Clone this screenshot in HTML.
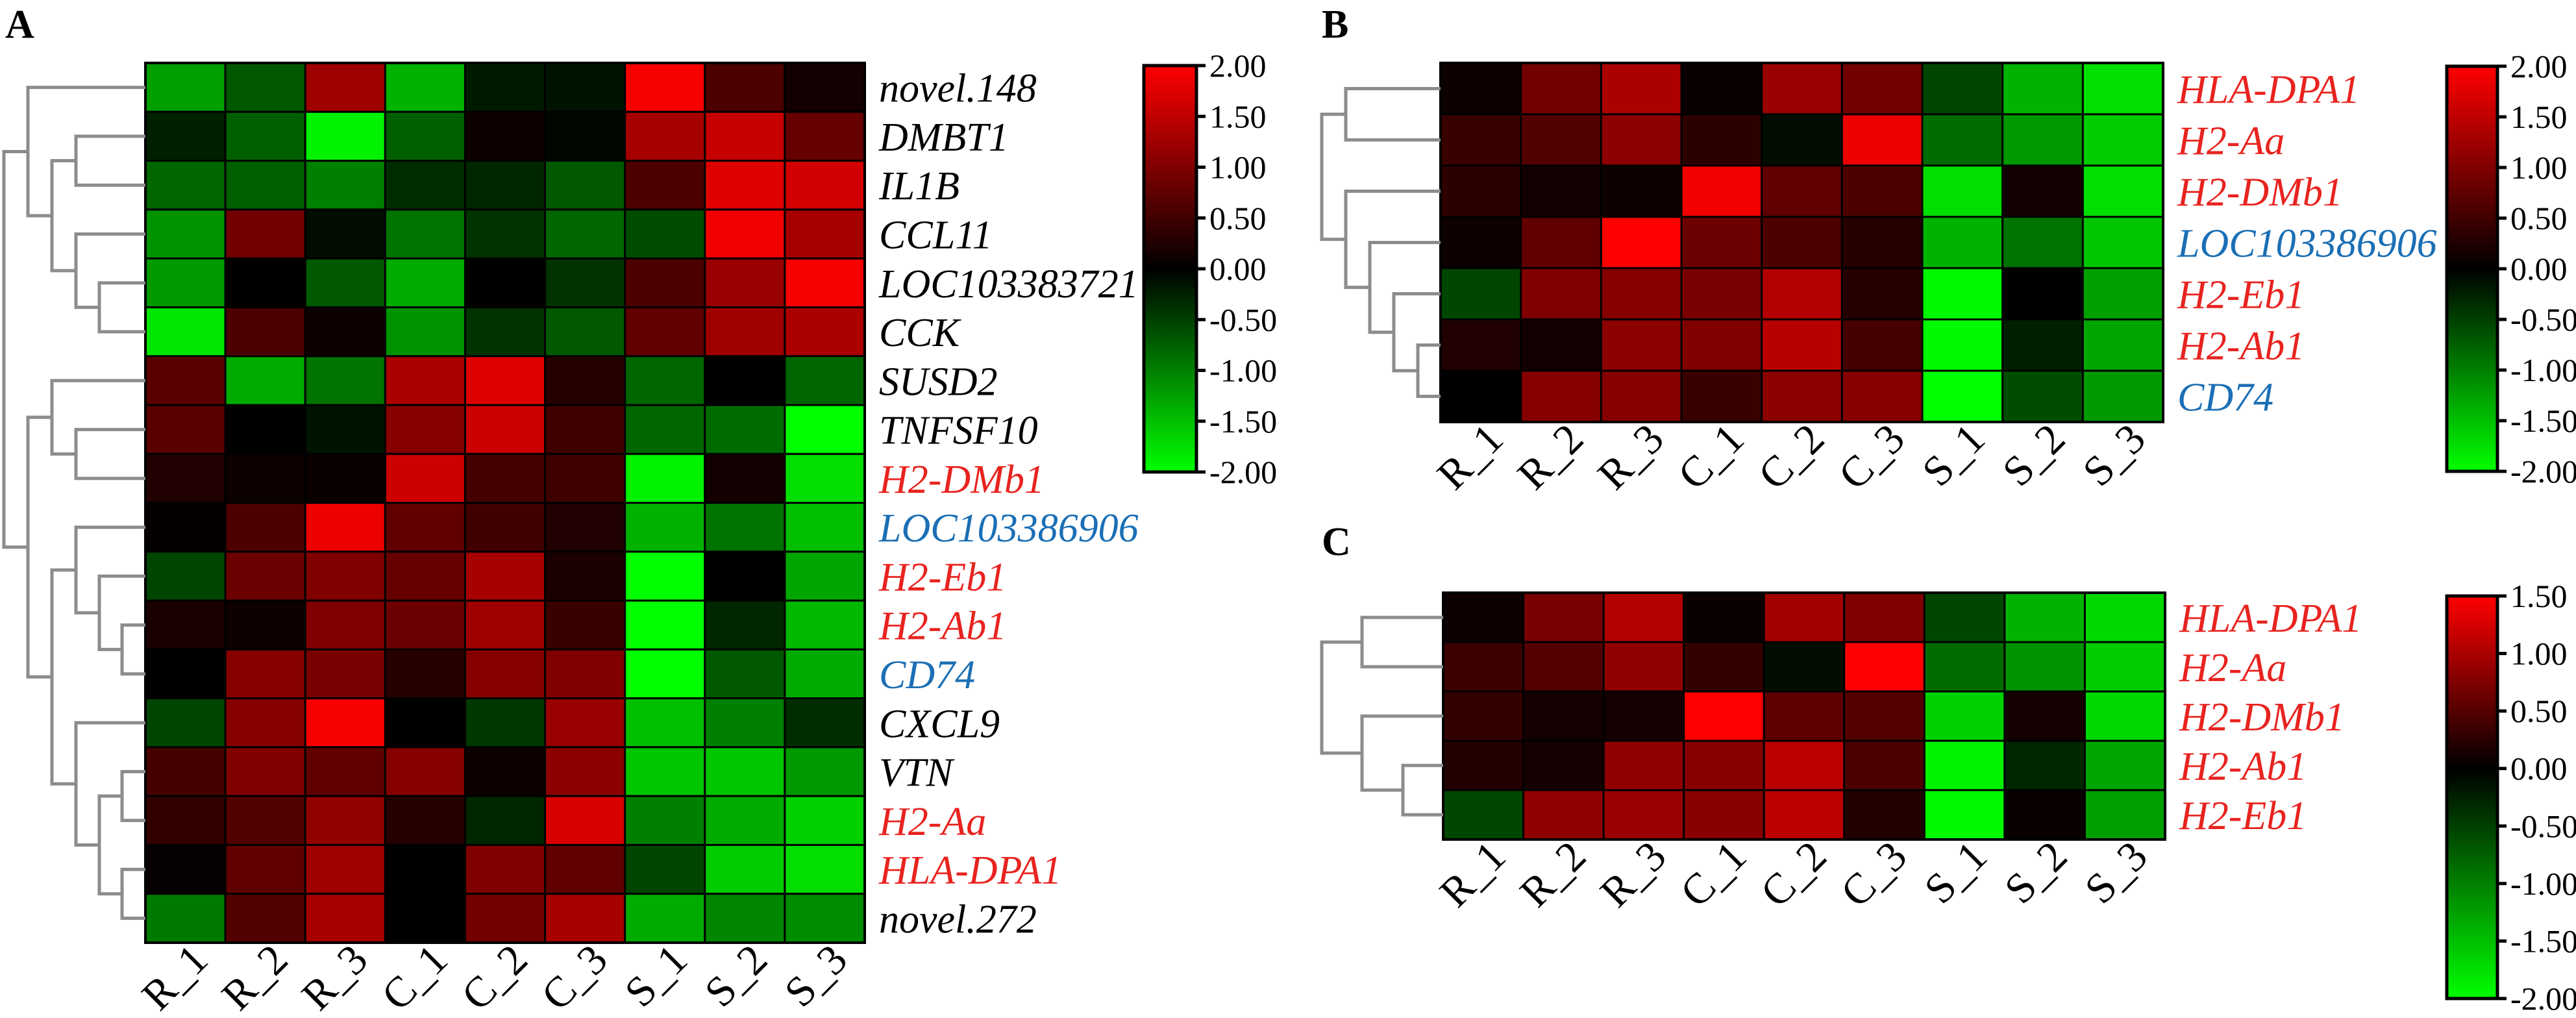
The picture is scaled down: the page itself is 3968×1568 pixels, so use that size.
<!DOCTYPE html>
<html><head><meta charset="utf-8"><style>
html,body{margin:0;padding:0;background:#fff}
svg{display:block}
svg text{font-family:"Liberation Serif","Times New Roman","DejaVu Serif",serif !important}
</style></head><body>
<svg id="fig" width="3968" height="1568" viewBox="0 0 3968 1568" xmlns="http://www.w3.org/2000/svg"></svg>
<script>
const cols = ["R_1","R_2","R_3","C_1","C_2","C_3","S_1","S_2","S_3"];
const rowsA = ["novel.148","DMBT1","IL1B","CCL11","LOC103383721","CCK","SUSD2","TNFSF10","H2-DMb1","LOC103386906","H2-Eb1","H2-Ab1","CD74","CXCL9","VTN","H2-Aa","HLA-DPA1","novel.272"];
const valuesA = [
[-1.25,-0.7,1.25,-1.4,-0.2,-0.15,1.95,0.6,0.15],
[-0.25,-0.75,-1.9,-0.75,0.1,-0.05,1.3,1.55,0.8],
[-0.8,-0.75,-1.0,-0.35,-0.3,-0.7,0.6,1.75,1.65],
[-1.15,0.9,-0.1,-0.9,-0.4,-0.8,-0.6,1.9,1.3],
[-1.2,0.02,-0.7,-1.35,0.02,-0.4,0.6,1.2,1.95],
[-1.8,0.6,0.1,-1.15,-0.4,-0.7,0.75,1.25,1.35],
[0.7,-1.35,-0.9,1.35,1.75,0.3,-0.8,0.0,-0.8],
[0.7,0.0,-0.15,1.05,1.6,0.5,-0.8,-0.85,-2.0],
[0.25,0.1,0.08,1.6,0.55,0.5,-1.9,0.15,-1.75],
[0.03,0.6,1.85,0.75,0.5,0.25,-1.4,-0.9,-1.5],
[-0.55,0.85,1.0,0.8,1.3,0.2,-2.0,0.0,-1.3],
[0.2,0.1,1.0,0.85,1.25,0.45,-2.0,-0.3,-1.45],
[0.0,1.05,0.95,0.3,1.05,1.0,-2.0,-0.7,-1.35],
[-0.55,1.05,1.95,0.0,-0.45,1.2,-1.5,-1.0,-0.35],
[0.55,1.0,0.75,1.05,0.1,1.1,-1.55,-1.55,-1.2],
[0.4,0.65,1.15,0.3,-0.3,1.7,-1.0,-1.35,-1.65],
[0.05,0.75,1.25,0.0,1.0,0.75,-0.55,-1.6,-1.75],
[-0.95,0.65,1.3,0.0,0.9,1.3,-1.35,-1.05,-1.1]];
const colorsA = ["k","k","k","k","k","k","k","k","r","b","r","r","b","k","k","r","r","k"];
const rowsB = ["HLA-DPA1","H2-Aa","H2-DMb1","LOC103386906","H2-Eb1","H2-Ab1","CD74"];
const valuesB = [
[0.1,0.9,1.35,0.08,1.2,0.9,-0.55,-1.4,-1.75],
[0.45,0.65,1.1,0.35,-0.1,1.85,-0.85,-1.2,-1.6],
[0.35,0.15,0.12,1.9,0.75,0.6,-1.75,0.15,-1.75],
[0.1,0.75,2.0,0.85,0.6,0.3,-1.4,-0.9,-1.55],
[-0.55,1.0,1.05,0.95,1.4,0.3,-1.95,0.0,-1.25],
[0.25,0.15,1.1,1.0,1.45,0.55,-1.95,-0.25,-1.3],
[0.0,1.05,1.05,0.45,1.1,1.05,-2.0,-0.6,-1.2]];
const colorsB = ["r","r","r","b","r","r","b"];
const rowsC = ["HLA-DPA1","H2-Aa","H2-DMb1","H2-Ab1","H2-Eb1"];
const valuesC = [
[0.08,0.7,1.05,0.06,0.95,0.75,-0.55,-1.4,-1.7],
[0.35,0.5,0.85,0.3,-0.1,1.5,-0.85,-1.15,-1.6],
[0.3,0.12,0.12,1.5,0.55,0.5,-1.65,0.12,-1.7],
[0.2,0.12,0.85,0.8,1.1,0.45,-1.9,-0.3,-1.3],
[-0.55,0.85,0.9,0.8,1.1,0.2,-1.95,0.05,-1.25]];
const colorsC = ["r","r","r","r","r"];
const ticksAB = ["2.00","1.50","1.00","0.50","0.00","-0.50","-1.00","-1.50","-2.00"];
const ticksC = ["1.50","1.00","0.50","0.00","-0.50","-1.00","-1.50","-2.00"];
const treeA = [[0,[[1,2,117],[3,[4,5,153],117],80],43],[[6,[7,8,117],80],[[9,[10,[11,12,188],153],117],[13,[[14,15,188],[16,17,188],153],117],80],43],6];
const treeB = [[0,1,89],[2,[3,[4,[5,6,200],163],126],89],52];
const treeC = [[0,1,114],[2,[3,4,177],114],52];

const NS = "http://www.w3.org/2000/svg";
const svg = document.getElementById("fig");
function mk(tag, attrs, parent){const e=document.createElementNS(NS,tag);for(const k in attrs)e.setAttribute(k,attrs[k]);if(tag==="text")e.setAttribute("style","font-family:'Liberation Serif','Times New Roman','DejaVu Serif',serif");(parent||svg).appendChild(e);return e;}
const labelColor = {k:"#000",r:"#e8231f",b:"#1b6fb5"};
function colorOf(v,vmin,vmax){
  let r=0,g=0;
  if(v>=0){r=Math.round(255*Math.min(1,v/vmax));}
  else{g=Math.round(255*Math.min(1,v/vmin));}
  return `rgb(${r},${g},0)`;
}
function heatmap(id, rows, vals, rcolors, x0,x1,y0,y1,vmin,vmax,tree,treeOff,panelLetter,lx,ly,cb){
  const g = mk("g",{});
  
  
  const cw=(x1-x0)/cols.length, rh=(y1-y0)/rows.length;
  const xs=i=>x0+i*cw, ys=j=>y0+j*rh;
  for(let j=0;j<rows.length;j++)for(let i=0;i<cols.length;i++){
    const c=mk("rect",{x:xs(i),y:ys(j),width:cw,height:rh,fill:colorOf(vals[j][i],vmin,vmax),stroke:"#000","stroke-width":3},g);
    
    
  }
  mk("rect",{x:x0,y:y0,width:x1-x0,height:y1-y0,fill:"none",stroke:"#000","stroke-width":4},g);
  for(let j=0;j<rows.length;j++){
    const t=mk("text",{x:x1+22,y:ys(j)+rh/2+22,"font-size":62,"font-style":"italic",fill:labelColor[rcolors[j]]},g);
    t.textContent=rows[j];
    
    
  }
  for(let i=0;i<cols.length;i++){
    const cx=xs(i)+cw/2+38, cy=y1+30;
    const t=mk("text",{x:cx,y:cy,"font-size":66,"text-anchor":"end",transform:`rotate(-45 ${cx} ${cy})`,fill:"#000"},g);
    t.textContent=cols[i];
    
    
  }
  const L=mk("text",{x:lx,y:ly,"font-size":62,"font-weight":"bold",fill:"#000"},g);
  L.textContent=panelLetter;
  
  
  const dg=mk("g",{stroke:"#8c8c8c","stroke-width":5,fill:"none"},g);
  
  
  function draw(n){
    if(typeof n==="number")return {y:ys(n)+rh/2,x:x0};
    const a=draw(n[0]),b=draw(n[1]),x=n[2]+treeOff;
    mk("line",{x1:x,y1:a.y,x2:x,y2:b.y},dg);
    mk("line",{x1:x-2.5,y1:a.y,x2:a.x,y2:a.y},dg);
    mk("line",{x1:x-2.5,y1:b.y,x2:b.x,y2:b.y},dg);
    return {y:(a.y+b.y)/2,x:x};
  }
  draw(tree);
  const [bx0,bx1,by0,by1,ticks,tmax,tmin]=cb;
  const gid="grad"+id;
  const defs=mk("defs",{},g);
  const lg=mk("linearGradient",{id:gid,x1:0,y1:1,x2:0,y2:0},defs);
  const zero=(0-tmin)/(tmax-tmin);
  mk("stop",{offset:0,"stop-color":colorOf(tmin,vmin,vmax)},lg);
  mk("stop",{offset:zero,"stop-color":"#000"},lg);
  mk("stop",{offset:1,"stop-color":colorOf(tmax,vmin,vmax)},lg);
  const bar=mk("rect",{x:bx0,y:by0,width:bx1-bx0,height:by1-by0,fill:`url(#${gid})`,stroke:"#000","stroke-width":5},g);
  
  
  for(let k=0;k<ticks.length;k++){
    const y=by0+k*(by1-by0)/(ticks.length-1);
    mk("line",{x1:bx1,y1:y,x2:bx1+14,y2:y,stroke:"#000","stroke-width":5},g);
    const t=mk("text",{x:bx1+20,y:y+17,"font-size":50,fill:"#000"},g);
    t.textContent=ticks[k];
    
    
  }
}
heatmap("a",rowsA,valuesA,colorsA,224,1332,97,1452,-2,2,treeA,0,"A",8,58,[1762,1843,101,727,ticksAB,2,-2]);
heatmap("b",rowsB,valuesB,colorsB,2219,3332,97,650,-2,2,treeB,1984,"B",2036,58,[3769,3847,102,726,ticksAB,2,-2]);
heatmap("c",rowsC,valuesC,colorsC,2223,3335,913,1293,-2,1.5,treeC,1984,"C",2036,855,[3769,3847,918,1538,ticksC,1.5,-2]);
</script>
</body></html>
